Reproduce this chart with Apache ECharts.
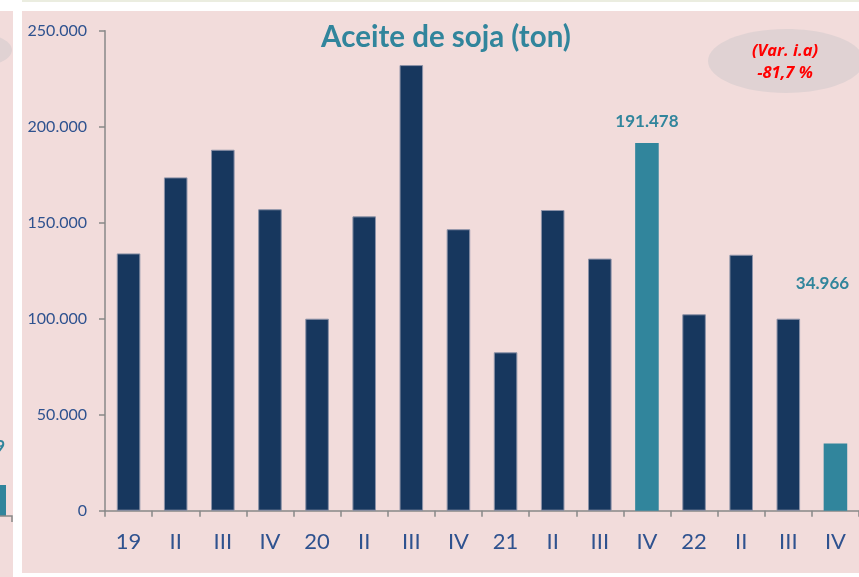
<!DOCTYPE html>
<html>
<head>
<meta charset="utf-8">
<script src="https://cdn.jsdelivr.net/npm/echarts@6/dist/echarts.min.js"></script>
<style>
  html, body { margin: 0; padding: 0; background: #fff; }
  #chart { width: 859px; height: 577px; }
</style>
</head>
<body>
<div id="chart"></div>
<script>
// quarters 2019 - 2022
const categories = ['19', 'II', 'III', 'IV', '20', 'II', 'III', 'IV', '21', 'II', 'III', 'IV', '22', 'II', 'III', 'IV']
const values = [134000, 173600, 188000, 157000, 100000, 153300, 232100, 146600, 82500, 156600, 131300, 191478, 102300, 133300, 100000, 34966]
// bars drawn in teal, with a value label
const highlighted = [11, 15]
const yTicks = [0, 50000, 100000, 150000, 200000, 250000]

const navy = '#17375E'
const teal = '#31859C'
const labelBlue = '#2F528F'
const pink = '#F2DCDB'

function fmt(v) {
  return String(v).replace(/\B(?=(\d{3})+(?!\d))/g, '.')
}

const chart = echarts.init(document.getElementById('chart'))

const barData = values.map((v, i) => {
  if (!highlighted.includes(i)) {
    return { value: v, itemStyle: { color: navy, borderColor: '#8d93a8', borderWidth: 1 } }
  }
  const last = i === values.length - 1
  return {
    value: v,
    itemStyle: { color: teal },
    label: {
      show: true,
      position: 'top',
      distance: last ? 152 : 13,
      offset: last ? [-13, 0] : [0, 0],
      formatter: p => fmt(p.value),
      color: teal,
      fontFamily: 'Lato',
      fontWeight: 'bold',
      fontSize: 17
    }
  }
})

const options = {
  backgroundColor: '#fff',
  animation: false,
  graphic: [
    { type: 'rect', z: -10, shape: { x: 22, y: 0, width: 837, height: 2 }, style: { fill: '#EBEDE0' } },
    { type: 'rect', z: -10, shape: { x: 0, y: 11, width: 13, height: 566 }, style: { fill: pink } },
    { type: 'rect', z: -10, shape: { x: 22, y: 11, width: 837, height: 562 }, style: { fill: pink } },
    // fragment of the neighbouring chart on the left
    { type: 'ellipse', z: -9, shape: { cx: -30, cy: 50, rx: 42, ry: 18 }, style: { fill: '#E0D2D3' } },
    { type: 'rect', z: -9, shape: { x: 0, y: 485, width: 6, height: 31 }, style: { fill: teal } },
    { type: 'polyline', z: -9, shape: { points: [[0, 516], [12, 516], [12, 522]] }, style: { stroke: '#888', lineWidth: 1.5, fill: null } },
    { type: 'text', z: -9, style: { x: 5, y: 447, text: '9', fill: teal, fontFamily: 'Lato', fontWeight: 'bold', fontSize: 17, align: 'right', verticalAlign: 'middle' } },
    // Var. i.a bubble
    { type: 'ellipse', z: 5, shape: { cx: 786, cy: 61, rx: 78, ry: 32 }, style: { fill: '#E0D2D3' } },
    { type: 'text', z: 6, style: { x: 785, y: 51, text: '(Var. i.a)', fill: '#FF0000', fontFamily: 'Open Sans', fontStyle: 'italic', fontWeight: 'bold', fontSize: 16.5, align: 'center', verticalAlign: 'middle' } },
    { type: 'text', z: 6, style: { x: 785, y: 73, text: '-81,7 %', fill: '#FF0000', fontFamily: 'Open Sans', fontStyle: 'italic', fontWeight: 'bold', fontSize: 16.5, align: 'center', verticalAlign: 'middle' } }
  ],
  title: {
    text: 'Aceite de soja (ton)',
    left: 441,
    textAlign: 'center',
    top: 17,
    textStyle: { color: teal, fontFamily: 'Lato', fontWeight: 'bold', fontSize: 29.5 }
  },
  grid: { left: 105, right: -5, top: 30.7, bottom: 66.3 },
  xAxis: {
    type: 'category',
    data: categories,
    axisLine: { lineStyle: { color: '#888', width: 1.5 } },
    axisTick: { show: true, length: 6, lineStyle: { color: '#888', width: 1.5 } },
    axisLabel: { color: labelBlue, fontFamily: 'Lato', fontSize: 22, margin: 20, interval: 0 }
  },
  yAxis: {
    type: 'value',
    min: 0,
    max: yTicks[yTicks.length - 1],
    interval: yTicks[1] - yTicks[0],
    splitLine: { show: false },
    axisLine: { show: true, lineStyle: { color: '#888', width: 1.5 } },
    axisTick: { show: true, length: 6, lineStyle: { color: '#888', width: 1.5 } },
    axisLabel: { color: labelBlue, fontFamily: 'Lato', fontSize: 16, margin: 18, formatter: v => fmt(v) }
  },
  series: [{
    type: 'bar',
    data: barData,
    barWidth: '50%'
  }]
}

chart.setOption(options)
</script>
</body>
</html>
